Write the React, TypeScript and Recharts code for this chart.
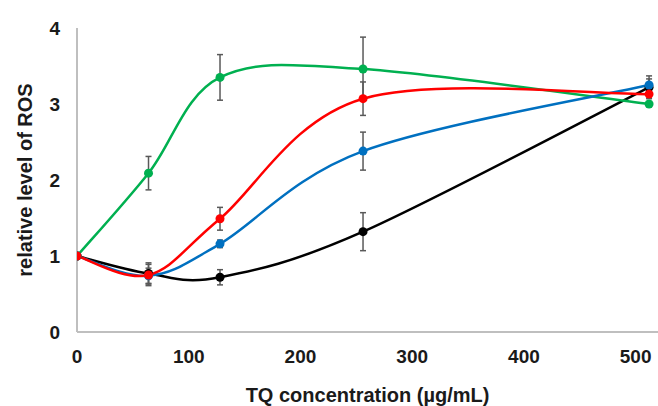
import React from 'react';
import { LineChart, Line, XAxis, YAxis, ErrorBar, Label } from 'recharts';

const concentrations = [0, 64, 128, 256, 512];
const greenValues = [1.0, 2.09, 3.35, 3.46, 3.0];
const greenErrors = [0, 0.22, 0.3, 0.42, 0.03];
const redValues = [1.0, 0.75, 1.49, 3.07, 3.13];
const redErrors = [0, 0.14, 0.15, 0.22, 0.03];
const blueValues = [1.0, 0.74, 1.16, 2.38, 3.25];
const blueErrors = [0, 0.1, 0.05, 0.25, 0.08];
const blackValues = [1.0, 0.77, 0.72, 1.32, 3.22];
const blackErrors = [0, 0.14, 0.1, 0.25, 0.15];
const xTicks = [0, 100, 200, 300, 400, 500];
const yTicks = [0, 1, 2, 3, 4];

const data = concentrations.map((x, i) => ({
    x,
    green: greenValues[i],
    greenErr: greenErrors[i],
    red: redValues[i],
    redErr: redErrors[i],
    blue: blueValues[i],
    blueErr: blueErrors[i],
    black: blackValues[i],
    blackErr: blackErrors[i],
}));

// Excel-style smoothed line (Catmull-Rom as cubic Bezier)
function excelCurve(context: any) {
    let xs: number[] = [];
    let ys: number[] = [];
    return {
        areaStart() {},
        areaEnd() {},
        lineStart() {
            xs = [];
            ys = [];
        },
        point(x: number, y: number) {
            xs.push(+x);
            ys.push(+y);
        },
        lineEnd() {
            const n = xs.length;
            if (!n) return;
            context.moveTo(xs[0], ys[0]);
            for (let i = 0; i < n - 1; i++) {
                const p0 = i > 0 ? i - 1 : i;
                const p3 = i + 2 < n ? i + 2 : i + 1;
                const c1x = xs[i] + (xs[i + 1] - xs[p0]) / 6;
                const c1y = ys[i] + (ys[i + 1] - ys[p0]) / 6;
                const c2x = xs[i + 1] - (xs[p3] - xs[i]) / 6;
                const c2y = ys[i + 1] - (ys[p3] - ys[i]) / 6;
                context.bezierCurveTo(c1x, c1y, c2x, c2y, xs[i + 1], ys[i + 1]);
            }
        },
    };
}

const tickFont = {
    fontFamily: '"Liberation Sans", Arial, sans-serif',
    fontWeight: 700,
    fontSize: 19,
    fill: '#1a1a1a',
};

const titleFont = { ...tickFont, fontSize: 20 };

const series = [
    { key: 'black', color: '#000000' },
    { key: 'green', color: '#00b050' },
    { key: 'blue', color: '#0070c0' },
    { key: 'red', color: '#ff0000' },
];

export default function App() {
    return (
        <div style={{ position: 'absolute', left: 0, top: 0, width: 658, height: 406, background: '#fff' }}>
            <LineChart width={658} height={406} data={data} margin={{ top: 28, right: 0, bottom: 0, left: 0 }}>
                <XAxis
                    type="number"
                    dataKey="x"
                    domain={[0, 520]}
                    ticks={xTicks}
                    allowDataOverflow
                    height={74}
                    tickLine={false}
                    tickSize={0}
                    tickMargin={18}
                    axisLine={{ stroke: '#bfbfbf', strokeWidth: 2 }}
                    tick={tickFont}
                >
                    <Label value="TQ concentration (µg/mL)" position="insideBottom" offset={4} style={titleFont} />
                </XAxis>
                <YAxis
                    type="number"
                    domain={[0, 4]}
                    ticks={yTicks}
                    width={77}
                    tickLine={false}
                    tickSize={0}
                    tickMargin={17}
                    axisLine={{ stroke: '#bfbfbf', strokeWidth: 2 }}
                    tick={tickFont}
                >
                    <Label
                        value="relative level of ROS"
                        angle={-90}
                        position="insideLeft"
                        offset={25}
                        style={{ ...titleFont, textAnchor: 'middle' }}
                    />
                </YAxis>
                {series.map((s) => (
                    <Line
                        key={s.key}
                        dataKey={s.key}
                        type={excelCurve as any}
                        stroke={s.color}
                        strokeWidth={2.5}
                        dot={{ r: 4.5, fill: s.color, stroke: s.color, strokeWidth: 0 }}
                        activeDot={false}
                        isAnimationActive={false}
                    >
                        <ErrorBar
                            dataKey={`${s.key}Err`}
                            direction="y"
                            width={3}
                            stroke="#595959"
                            strokeWidth={1.5}
                            isAnimationActive={false}
                        />
                    </Line>
                ))}
            </LineChart>
        </div>
    );
}
